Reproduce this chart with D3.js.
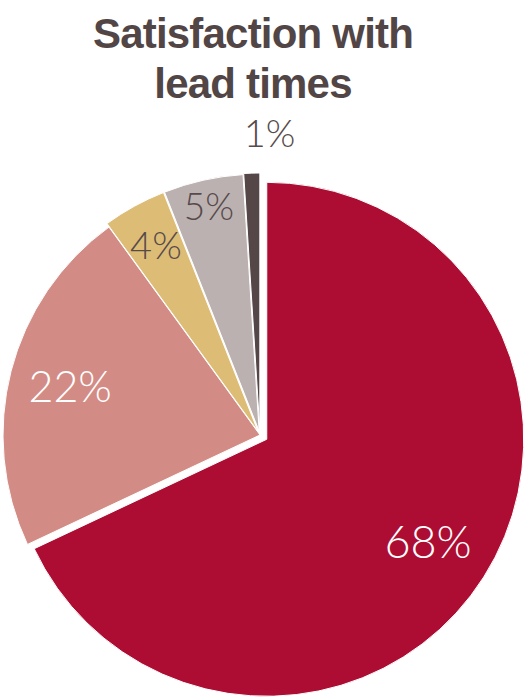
<!DOCTYPE html>
<html>
<head>
<meta charset="utf-8">
<script src="https://cdn.jsdelivr.net/npm/d3@7"></script>
<style>
  body { margin: 0; background: #fff; }
  #pie { width: 526px; height: 700px; }
</style>
</head>
<body>
<div id="pie"></div>
<script>
// chart data
var categories = ["Group A", "Group B", "Group C", "Group D", "Group E"];
var values = [68, 22, 4, 5, 1];
var valueLabels = ["68%", "22%", "4%", "5%", "1%"];
var titleLines = ["Satisfaction with", "lead times"];

// colours + per slice styling (kept apart from the data)
var colors = ["#ad0d33", "#d38c85", "#ddbd76", "#bcb1b1", "#554748"];
var labelColors = ["#ffffff", "#ffffff", "#574a4b", "#574a4b", "#574a4b"];
var labelSizes = [45, 43, 38, 37, 38];
var explode = [8, 0, 4, 4, 5];
var labelRadius = [191, 196, 212, 230, 297];
var labelShiftX = [0, 0, 0, 0, 19];

var width = 526;
var height = 700;
var cx = 260;
var cy = 435;
var radius = 257;

var svg = d3.select("#pie").append("svg")
  .attr("width", width)
  .attr("height", height);

// title, two lines
svg.append("g").attr("class", "title")
  .selectAll("text")
  .data(titleLines)
  .enter().append("text")
  .attr("x", 253)
  .attr("y", function(d, i) { return 48 + i * 50; })
  .attr("text-anchor", "middle")
  .style("font-family", "'Liberation Sans', Arial, sans-serif")
  .style("font-weight", "bold")
  .style("font-size", "42px")
  .style("letter-spacing", "-0.8px")
  .style("fill", "#514546")
  .text(function(d) { return d; });

var pie = d3.pie().sort(null).value(function(d) { return d; });
var arcs = pie(values);

var arc = d3.arc().innerRadius(0).outerRadius(radius);

// offset of a slice centre along its middle angle
function shift(d, i, dist) {
  var mid = (d.startAngle + d.endAngle) / 2;
  return [cx + Math.sin(mid) * dist, cy - Math.cos(mid) * dist];
}

var slices = svg.append("g").attr("class", "slices")
  .selectAll("path")
  .data(arcs)
  .enter().append("path")
  .attr("d", arc)
  .attr("transform", function(d, i) {
    var p = shift(d, i, explode[i]);
    return "translate(" + p[0] + "," + p[1] + ")";
  })
  .attr("fill", function(d, i) { return colors[i]; })
  .attr("stroke", "#fff")
  .attr("stroke-width", 1)
  .attr("data-name", function(d, i) { return categories[i]; });

// percent labels
svg.append("g").attr("class", "labels")
  .selectAll("text")
  .data(arcs)
  .enter().append("text")
  .attr("transform", function(d, i) {
    var base = shift(d, i, explode[i]);
    var mid = (d.startAngle + d.endAngle) / 2;
    var x = base[0] + Math.sin(mid) * labelRadius[i] + labelShiftX[i];
    var y = base[1] - Math.cos(mid) * labelRadius[i];
    return "translate(" + x + "," + y + ")";
  })
  .attr("dy", "0.36em")
  .attr("text-anchor", "middle")
  .style("font-family", "Lato, 'Open Sans', sans-serif")
  .style("font-weight", 300)
  .style("font-size", function(d, i) { return labelSizes[i] + "px"; })
  .style("fill", function(d, i) { return labelColors[i]; })
  .text(function(d, i) { return valueLabels[i]; });
</script>
</body>
</html>
